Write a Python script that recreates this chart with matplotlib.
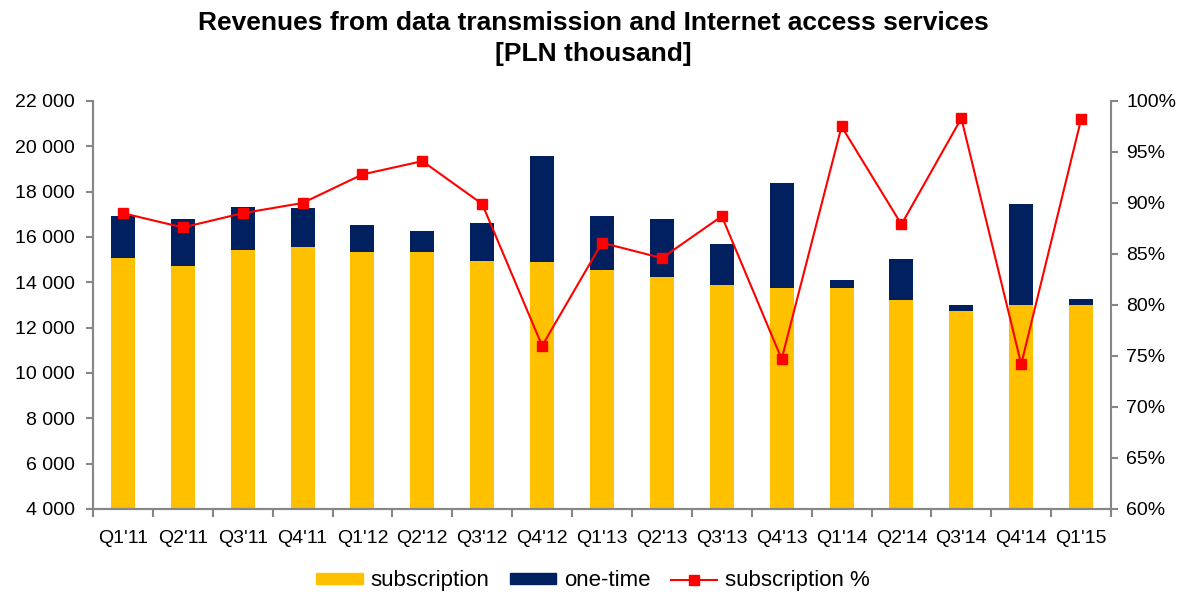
import numpy as np
import matplotlib
matplotlib.use('Agg')
import matplotlib.pyplot as plt
from matplotlib.ticker import FuncFormatter, FixedLocator
from matplotlib.patches import Patch
from matplotlib.lines import Line2D

plt.rcParams['font.family'] = ['Liberation Sans', 'DejaVu Sans']

# quarterly values
quarters = ["Q1'11", "Q2'11", "Q3'11", "Q4'11", "Q1'12", "Q2'12", "Q3'12", "Q4'12",
            "Q1'13", "Q2'13", "Q3'13", "Q4'13", "Q1'14", "Q2'14", "Q3'14", "Q4'14", "Q1'15"]
subscription = [15074, 14721, 15412, 15559, 15324, 15338, 14956, 14882,
                14559, 14235, 13897, 13750, 13765, 13204, 12750, 12984, 13015]
total = [16941, 16809, 17324, 17294, 16515, 16279, 16632, 19588,
         16912, 16809, 15691, 18397, 14118, 15044, 12984, 17471, 13248]
subscription_pct = [89.0, 87.6, 89.0, 90.0, 92.8, 94.1, 89.9, 76.0,
                    86.1, 84.6, 88.7, 74.7, 97.5, 87.9, 98.3, 74.2, 98.2]

one_time = [t - s for t, s in zip(total, subscription)]

yellow = '#FFC000'
navy = '#002060'
red = '#FF0000'
grey = '#868686'

fig = plt.figure(figsize=(11.86, 5.94), dpi=100)
ax = fig.add_axes([0.0784, 0.1431, 0.8584, 0.6869])
x = np.arange(len(quarters))

ax.bar(x, subscription, width=0.4, color=yellow, edgecolor='none', zorder=2)
ax.bar(x, one_time, width=0.4, color=navy, bottom=subscription, edgecolor='none', zorder=2)
ax.set_ylim(4000, 22000)
ax.set_xlim(-0.5, len(quarters) - 0.5)
ax.set_yticks(range(4000, 22001, 2000))
ax.yaxis.set_major_formatter(FuncFormatter(lambda v, p: f"{int(v):,}".replace(',', ' ')))
ax.set_xticks(x)
ax.set_xticklabels(quarters)
ax.xaxis.set_minor_locator(FixedLocator(np.arange(-0.5, len(quarters), 1)))
ax.tick_params(axis='x', which='major', length=0, labelsize=14, pad=15)
ax.tick_params(axis='x', which='minor', length=6, color=grey, width=1.5)
ax.tick_params(axis='y', length=5, color=grey, width=1.5, labelsize=14, pad=8)

ax2 = ax.twinx()
ax2.plot(x, subscription_pct, color=red, lw=1.5, marker='s', markersize=7, zorder=3)
ax2.set_ylim(60, 100)
ax2.set_yticks(range(60, 101, 5))
ax2.yaxis.set_major_formatter(FuncFormatter(lambda v, p: f"{int(v)}%"))
ax2.tick_params(axis='y', length=5, color=grey, width=1.5, labelsize=14, pad=6)

for a in (ax, ax2):
    a.spines['top'].set_visible(False)
    for s in ('left', 'right', 'bottom'):
        a.spines[s].set_color(grey)
        a.spines[s].set_linewidth(1.5)
ax.spines['right'].set_visible(False)

fig.suptitle('Revenues from data transmission and Internet access services\n[PLN thousand]',
             fontsize=19, fontweight='bold', y=0.982, linespacing=1.4)

handles = [Patch(color=yellow), Patch(color=navy),
           Line2D([], [], color=red, lw=1.5, marker='s', markersize=7)]
fig.legend(handles, ['subscription', 'one-time', 'subscription %'], loc='center',
           bbox_to_anchor=(0.5, 0.022), ncol=3, frameon=False, fontsize=16,
           handlelength=2.1, handleheight=0.35, columnspacing=0.9, handletextpad=0.35)

fig.savefig('out.png', dpi=100)
